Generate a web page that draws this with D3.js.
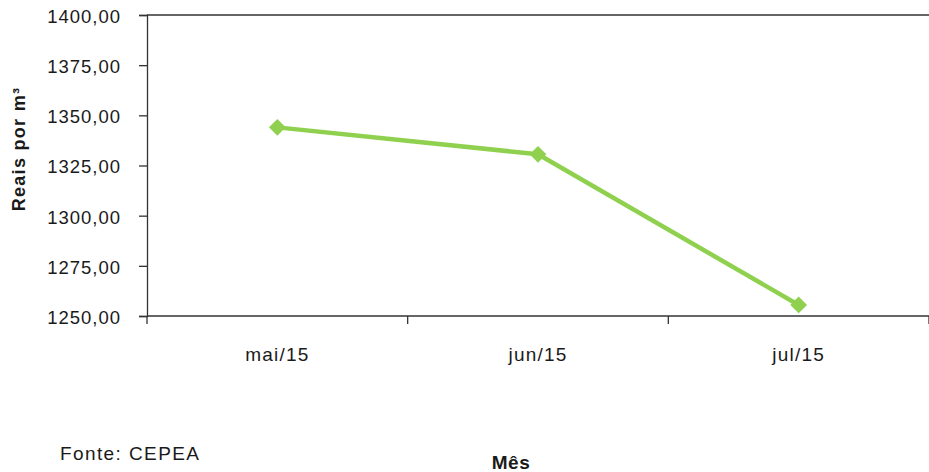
<!DOCTYPE html>
<html>
<head>
<meta charset="utf-8">
<script src="https://cdn.jsdelivr.net/npm/d3@7"></script>
<style>
  html, body { margin: 0; padding: 0; background: #fff; }
  svg { display: block; }
  text { font-family: "Liberation Sans", Arial, sans-serif; fill: #1a1a1a; }
</style>
</head>
<body>
<svg id="chart" width="929" height="472"></svg>
<script>
// Monthly price, Reais per cubic metre
const months = ["mai/15", "jun/15", "jul/15"];
const prices = [1344.0, 1330.6, 1255.5];
const yTicks = [1250, 1275, 1300, 1325, 1350, 1375, 1400];

const svg = d3.select("#chart");
const plot = { left: 147, right: 929, top: 15, bottom: 316 };

const x = d3.scaleBand().domain(months).range([plot.left, plot.right]).padding(0);
const y = d3.scaleLinear().domain([1250, 1400]).range([plot.bottom, plot.top]);

const fmt = v => d3.format(".2f")(v).replace(".", ",");
const axisColor = "#333";

// top border of the plot area
svg.append("line")
  .attr("x1", plot.left).attr("x2", plot.right)
  .attr("y1", plot.top).attr("y2", plot.top)
  .attr("stroke", axisColor).attr("stroke-width", 1.3);

// y axis
const yAxis = svg.append("g")
  .attr("transform", `translate(${plot.left},0)`)
  .call(d3.axisLeft(y).tickValues(yTicks).tickSize(8).tickPadding(18).tickFormat(fmt));
yAxis.select(".domain").attr("stroke", axisColor).attr("stroke-width", 1.3);
yAxis.selectAll(".tick line").attr("stroke", axisColor).attr("stroke-width", 1.3);
yAxis.selectAll(".tick text")
  .attr("font-family", "Liberation Sans, Arial, sans-serif")
  .attr("font-size", 18.5).attr("letter-spacing", "1px")
  .attr("fill", "#1a1a1a").attr("dy", "0.4em");

// x axis with ticks at the category boundaries
const xAxisG = svg.append("g").attr("transform", `translate(0,${plot.bottom})`);
xAxisG.append("line")
  .attr("x1", plot.left).attr("x2", plot.right)
  .attr("stroke", axisColor).attr("stroke-width", 1.3);
const bounds = months.map(m => x(m)).concat([x(months[months.length - 1]) + x.bandwidth()]);
xAxisG.selectAll("line.tick")
  .data(bounds).join("line").attr("class", "tick")
  .attr("x1", d => d).attr("x2", d => d)
  .attr("y1", 0).attr("y2", 8)
  .attr("stroke", axisColor).attr("stroke-width", 1.3);
xAxisG.selectAll("text.lbl")
  .data(months).join("text").attr("class", "lbl")
  .attr("x", d => x(d) + x.bandwidth() / 2)
  .attr("y", 45)
  .attr("text-anchor", "middle")
  .attr("font-size", 19).attr("letter-spacing", "1.2px")
  .text(d => d);

// series line
const pts = months.map((m, i) => [x(m) + x.bandwidth() / 2, y(prices[i])]);
const green = "#8fd14f";
svg.append("path")
  .attr("d", d3.line()(pts))
  .attr("fill", "none").attr("stroke", green)
  .attr("stroke-width", 4.5).attr("stroke-linejoin", "round");

// diamond markers
svg.selectAll("path.marker")
  .data(pts).join("path").attr("class", "marker")
  .attr("d", d3.symbol().type(d3.symbolSquare).size(140)())
  .attr("transform", d => `translate(${d[0]},${d[1]}) rotate(45)`)
  .attr("fill", green);

// axis titles and source note
svg.append("text")
  .attr("transform", "translate(25,149) rotate(-90)")
  .attr("text-anchor", "middle")
  .attr("font-size", 18).attr("font-weight", "bold").attr("letter-spacing", "1.3px")
  .text("Reais por m³");

svg.append("text")
  .attr("x", 511).attr("y", 469)
  .attr("text-anchor", "middle")
  .attr("font-size", 19).attr("font-weight", "bold").attr("letter-spacing", "0.5px")
  .text("Mês");

svg.append("text")
  .attr("x", 60).attr("y", 460)
  .attr("font-size", 19).attr("letter-spacing", "1.4px")
  .text("Fonte: CEPEA");
</script>
</body>
</html>
